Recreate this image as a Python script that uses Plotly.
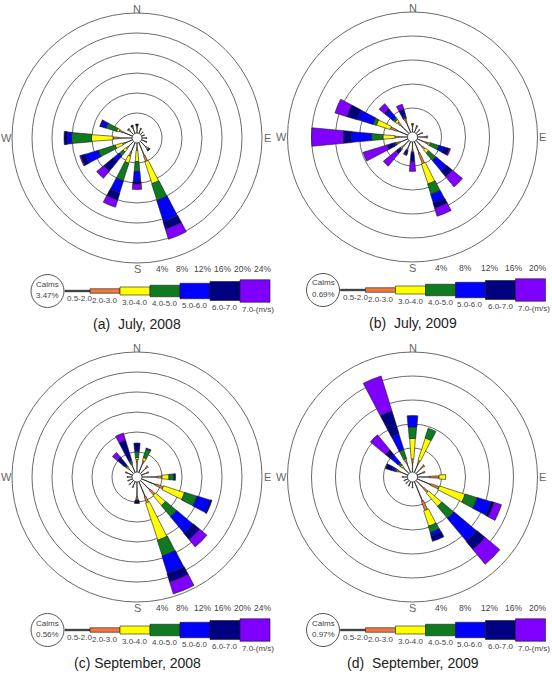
import plotly.graph_objects as go

# ---------------- data ----------------
directions = ["N", "NNE", "NE", "ENE", "E", "ESE", "SE", "SSE",
              "S", "SSW", "SW", "WSW", "W", "WNW", "NW", "NNW"]
dir_angles = [0, 22.5, 45, 67.5, 90, 112.5, 135, 157.5,
              180, 202.5, 225, 247.5, 270, 292.5, 315, 337.5]
speed_classes = ["0.5-2.0", "2.0-3.0", "3.0-4.0", "4.0-5.0",
                 "5.0-6.0", "6.0-7.0", "7.0-(m/s)"]
compass_labels = ["N", "E", "S", "W"]

# frequency (%) per direction (rows N..NNW), per speed class (columns)
freq_jul_2008 = [
    [1.0, 0.3, 0.2, 0.1, 0.1, 0.1, 0.0],
    [0.8, 0.2, 0.1, 0.0, 0.0, 0.0, 0.0],
    [0.6, 0.1, 0.0, 0.0, 0.0, 0.0, 0.0],
    [0.5, 0.1, 0.0, 0.0, 0.0, 0.0, 0.0],
    [0.8, 0.2, 0.0, 0.0, 0.0, 0.0, 0.0],
    [0.8, 0.2, 0.1, 0.0, 0.0, 0.0, 0.0],
    [1.5, 0.4, 0.2, 0.1, 0.1, 0.1, 0.0],
    [2.8, 1.2, 4.6, 3.5, 4.4, 1.6, 2.1],
    [1.0, 0.5, 2.2, 2.0, 2.0, 0.5, 1.1],
    [2.0, 0.9, 1.4, 3.7, 2.5, 1.5, 1.5],
    [1.5, 0.5, 0.7, 1.0, 1.5, 2.5, 1.8],
    [1.5, 0.6, 1.5, 3.5, 2.7, 1.0, 0.2],
    [2.8, 1.0, 4.3, 4.0, 0.9, 0.6, 0.0],
    [2.0, 0.8, 0.5, 2.2, 1.0, 0.3, 0.0],
    [1.0, 0.3, 0.1, 0.1, 0.0, 0.0, 0.0],
    [1.0, 0.3, 0.2, 0.1, 0.1, 0.0, 0.0],
]
freq_jul_2009 = [
    [0.9, 0.3, 0.1, 0.1, 0.0, 0.0, 0.0],
    [0.8, 0.3, 0.1, 0.0, 0.0, 0.0, 0.0],
    [0.7, 0.2, 0.0, 0.0, 0.0, 0.0, 0.0],
    [0.8, 0.2, 0.0, 0.0, 0.0, 0.0, 0.0],
    [1.2, 0.3, 0.2, 0.0, 0.0, 0.0, 0.0],
    [1.5, 0.5, 0.3, 1.5, 0.8, 1.0, 0.2],
    [1.5, 0.5, 0.7, 1.6, 2.3, 1.2, 2.2],
    [2.0, 1.9, 3.5, 1.8, 1.5, 0.9, 1.4],
    [1.2, 0.4, 0.1, 0.1, 0.1, 1.4, 1.6],
    [1.2, 0.3, 0.1, 0.1, 0.2, 0.3, 0.2],
    [1.2, 0.4, 0.2, 0.2, 0.3, 0.5, 2.7],
    [1.4, 0.5, 0.2, 0.2, 0.3, 1.0, 4.2],
    [1.5, 0.6, 2.0, 1.9, 3.3, 1.4, 5.3],
    [2.0, 1.1, 2.4, 0.6, 2.7, 1.8, 2.1],
    [2.0, 0.6, 0.4, 0.4, 1.6, 0.3, 1.1],
    [1.8, 0.5, 0.2, 0.2, 0.5, 0.8, 0.9],
]
freq_sep_2008 = [
    [2.0, 0.5, 0.4, 1.2, 0.5, 1.2, 0.0],
    [2.0, 0.5, 0.6, 1.8, 0.2, 0.0, 0.0],
    [1.5, 0.4, 0.1, 0.0, 0.0, 0.0, 0.0],
    [1.2, 0.3, 0.0, 0.0, 0.0, 0.0, 0.0],
    [3.0, 1.0, 1.4, 1.0, 0.3, 0.0, 0.0],
    [3.0, 1.6, 4.4, 2.6, 2.8, 0.3, 0.0],
    [2.6, 1.3, 2.6, 2.9, 4.2, 1.7, 1.9],
    [3.2, 1.3, 7.8, 3.3, 3.6, 1.8, 2.5],
    [3.0, 0.6, 0.1, 0.1, 0.1, 0.4, 0.0],
    [1.0, 0.3, 0.0, 0.0, 0.0, 0.0, 0.0],
    [1.0, 0.2, 0.0, 0.0, 0.0, 0.0, 0.0],
    [0.8, 0.2, 0.0, 0.0, 0.0, 0.0, 0.0],
    [0.8, 0.2, 0.0, 0.0, 0.0, 0.0, 0.0],
    [1.2, 0.3, 0.0, 0.0, 0.0, 0.0, 0.0],
    [1.3, 0.3, 0.2, 0.3, 0.3, 1.8, 1.2],
    [1.5, 0.3, 0.2, 0.5, 0.6, 3.6, 1.5],
]
freq_sep_2009 = [
    [1.5, 0.7, 3.4, 1.9, 1.9, 0.0, 0.0],
    [1.5, 0.6, 3.9, 1.7, 0.0, 0.0, 0.0],
    [1.2, 0.6, 0.1, 0.0, 0.0, 0.0, 0.0],
    [1.0, 0.4, 0.0, 0.0, 0.0, 0.0, 0.0],
    [2.0, 1.6, 1.1, 0.0, 0.0, 0.0, 0.0],
    [2.4, 1.5, 4.5, 2.1, 2.4, 0.5, 1.3],
    [1.8, 0.9, 2.9, 2.6, 4.9, 1.8, 3.2],
    [3.5, 1.6, 2.7, 1.1, 0.6, 0.9, 0.0],
    [0.8, 0.2, 0.0, 0.0, 0.0, 0.0, 0.0],
    [0.6, 0.2, 0.0, 0.0, 0.0, 0.0, 0.0],
    [0.6, 0.1, 0.0, 0.0, 0.0, 0.0, 0.0],
    [0.6, 0.1, 0.0, 0.0, 0.0, 0.0, 0.0],
    [0.7, 0.2, 0.0, 0.0, 0.0, 0.0, 0.0],
    [1.5, 0.3, 0.2, 0.3, 0.5, 1.1, 0.0],
    [1.2, 0.3, 0.3, 0.5, 1.7, 1.0, 3.3],
    [1.6, 0.5, 0.3, 1.6, 2.7, 4.0, 6.1],
]
calms = [3.47, 0.69, 0.56, 0.97]
radial_max = [24, 20, 24, 20]
panel_titles = ["(a)  July, 2008", "(b)  July, 2009",
                "(c) September, 2008", "(d)  September, 2009"]
panels = [freq_jul_2008, freq_jul_2009, freq_sep_2008, freq_sep_2009]

# ---------------- style ----------------
class_colors = ["#333333", "#F07A3A", "#FFFF00", "#107A20",
                "#0000FF", "#000080", "#8000FF"]
class_widths_deg = [1.5, 5, 8.5, 9.5, 10, 10.5, 10.5]
legend_heights = [1.5, 4.5, 8, 11.5, 15.5, 19, 22.5]

W_PX, H_PX = 552, 678
R_PX = 125
CALM_PX = 5
centers = [(137, 138), (412.5, 137), (137, 477), (412.5, 477)]
FONT = "Liberation Sans"
TXT = "#444444"


def fx(x):
    return x / W_PX


def fy(y):
    return 1 - y / H_PX


def label(x, y, text, size, color=TXT, xanchor="center", yanchor="middle"):
    return dict(x=fx(x), y=fy(y), xref="paper", yref="paper", text=text,
                showarrow=False, xanchor=xanchor, yanchor=yanchor,
                font=dict(family=FONT, size=size, color=color))


fig = go.Figure()
shapes = []
annotations = []
layout_polars = {}

for p, (data, rmax, calm, title, (cx, cy)) in enumerate(
        zip(panels, radial_max, calms, panel_titles, centers)):
    name = "polar" if p == 0 else f"polar{p + 1}"
    # offset so that r=0 sits on the calm circle
    rmin = -rmax * CALM_PX / (R_PX - CALM_PX)
    for k, cls in enumerate(speed_classes):
        fig.add_trace(go.Barpolar(
            r=[row[k] for row in data],
            theta=dir_angles,
            width=class_widths_deg[k],
            name=cls,
            marker=dict(color=class_colors[k],
                        line=dict(color="#1a1a1a", width=0.6)),
            subplot=name,
            showlegend=False,
        ))
    ticks = list(range(0, rmax + 1, 4))
    layout_polars[name] = dict(
        domain=dict(x=[fx(cx - R_PX), fx(cx + R_PX)],
                    y=[fy(cy + R_PX), fy(cy - R_PX)]),
        bgcolor="white",
        barmode="stack",
        radialaxis=dict(range=[rmin, rmax], tickvals=ticks,
                        showticklabels=False, ticks="", showline=False,
                        gridcolor="#6a6a6a", gridwidth=1),
        angularaxis=dict(rotation=90, direction="clockwise",
                         showticklabels=False, showgrid=False,
                         showline=True, linecolor="#6a6a6a", linewidth=1,
                         ticks=""),
    )
    # compass letters
    annotations.append(label(cx, cy - 129, compass_labels[0], 11, "#666666"))
    annotations.append(label(cx + 130, cy, compass_labels[1], 11, "#666666"))
    annotations.append(label(cx, cy + 131, compass_labels[2], 11, "#666666"))
    annotations.append(label(cx - 131, cy, compass_labels[3], 11, "#666666"))
    # radial scale labels along the bottom row
    for v in ticks[1:]:
        xpix = cx + R_PX * (v - rmin) / (rmax - rmin)
        annotations.append(label(xpix, cy + 131, f"{v}%", 8.5))
    # legend: calms circle
    lx = cx - 137 + 47.5
    ly = cy + 153
    shapes.append(dict(type="circle", xref="paper", yref="paper",
                       x0=fx(lx - 16.5), x1=fx(lx + 16.5),
                       y0=fy(ly + 16.5), y1=fy(ly - 16.5),
                       line=dict(color="#555555", width=1),
                       fillcolor="white"))
    annotations.append(label(lx, ly - 7, "Calms", 8))
    annotations.append(label(lx, ly + 4, f"{calm:.2f}%", 8))
    # legend: speed class bars
    seg_x = cx - 137 + 65
    for k, cls in enumerate(speed_classes):
        seg_w = 25 if k == 0 else 30
        h = legend_heights[k]
        shapes.append(dict(type="rect", xref="paper", yref="paper",
                           x0=fx(seg_x), x1=fx(seg_x + seg_w),
                           y0=fy(ly + h / 2), y1=fy(ly - h / 2),
                           fillcolor=class_colors[k],
                           line=dict(color="#1a1a1a", width=0.6)))
        annotations.append(label(seg_x, ly + h / 2 + 0.5, cls, 8,
                                 xanchor="left", yanchor="top"))
        seg_x += seg_w
    # panel title
    annotations.append(label(cx, cy + 186, title, 14, "#222222"))

fig.update_layout(
    width=W_PX, height=H_PX,
    margin=dict(l=0, r=0, t=0, b=0),
    paper_bgcolor="white",
    showlegend=False,
    shapes=shapes,
    annotations=annotations,
    **layout_polars,
)

fig.write_html("out.html")
